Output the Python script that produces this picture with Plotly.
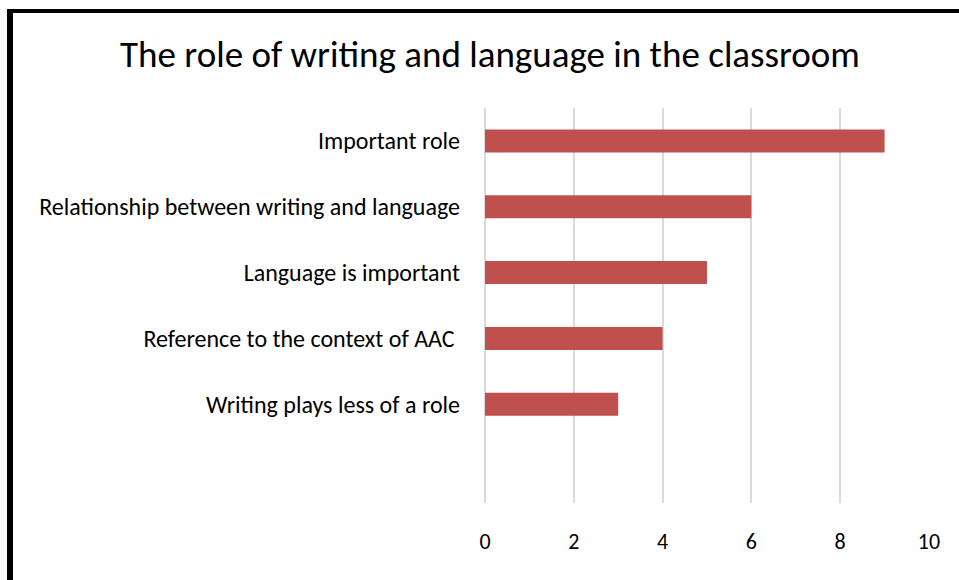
import plotly.graph_objects as go

# Data (top to bottom as shown)
categories = [
    "Important role",
    "Relationship between writing and language",
    "Language is important",
    "Reference to the context of AAC\u00a0",
    "Writing plays less of a role",
]
values = [9, 6, 5, 4, 3]
x_ticks = [0, 2, 4, 6, 8, 10]
title_text = "The role of writing and language in the classroom"

FONT = "Carlito, 'DejaVu Sans Condensed', 'Liberation Sans Narrow', sans-serif"

# plot-area geometry in pixels (for converting border positions to paper coords)
W, H = 959, 580
L, R, T, B = 485, 30, 108, 77
pw = W - L - R
ph = H - T - B

def px(x):
    return (x - L) / pw

def py(y):
    return (H - B - y) / ph

cats_bottom_up = categories[::-1]
vals_bottom_up = values[::-1]

fig = go.Figure(
    go.Bar(
        x=vals_bottom_up,
        y=cats_bottom_up,
        orientation="h",
        width=0.35,
        marker=dict(color="#C0504D", line=dict(width=0)),
        hoverinfo="x+y",
    )
)

fig.update_layout(
    width=W,
    height=H,
    margin=dict(l=L, r=R, t=T, b=B, pad=0),
    paper_bgcolor="white",
    plot_bgcolor="white",
    showlegend=False,
    title=dict(
        text=title_text,
        x=490 / W,
        xanchor="center",
        y=1 - 54 / H,
        yanchor="middle",
        font=dict(family=FONT, size=37, color="#000000"),
    ),
    xaxis=dict(
        range=[0, 10],
        tickvals=x_ticks,
        ticktext=[str(v) for v in x_ticks],
        showgrid=True,
        gridcolor="#dadada",
        gridwidth=1.5,
        zeroline=True,
        zerolinecolor="#dadada",
        zerolinewidth=1.5,
        showline=False,
        ticks="",
        ticklabelstandoff=23,
        tickfont=dict(family=FONT, size=22, color="#000000"),
    ),
    yaxis=dict(
        type="category",
        categoryorder="array",
        categoryarray=cats_bottom_up,
        range=[-1.5, len(categories) - 0.5],
        showgrid=False,
        zeroline=False,
        showline=False,
        ticks="",
        ticklabelstandoff=24,
        tickfont=dict(family=FONT, size=24, color="#000000"),
    ),
    shapes=[
        # left border
        dict(type="rect", xref="paper", yref="paper",
             x0=px(7), x1=px(13), y0=py(H), y1=py(9),
             fillcolor="black", line=dict(width=0), layer="above"),
        # top border
        dict(type="rect", xref="paper", yref="paper",
             x0=px(7), x1=px(W), y0=py(13), y1=py(9),
             fillcolor="black", line=dict(width=0), layer="above"),
    ],
)

fig.write_html(
    "out.html",
    config={"displayModeBar": False},
    post_script="document.body.style.margin='0';document.body.style.overflow='hidden';",
)
